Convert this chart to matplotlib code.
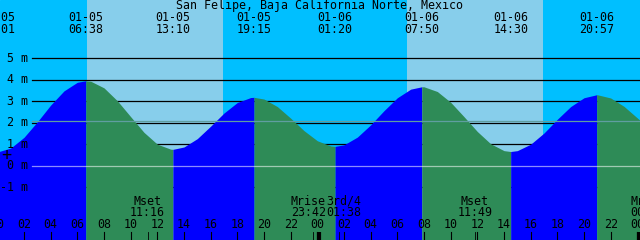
import matplotlib
matplotlib.use('Agg')
import matplotlib.pyplot as plt
from matplotlib.transforms import blended_transform_factory
import numpy as np

# tide extremes (hours from 01-05 00:00)
tide_kind = ['L', 'H', 'L', 'H', 'L', 'H', 'L', 'H', 'L']
tide_hour = [0.017, 6.633, 13.167, 19.25, 25.333, 31.833, 38.5, 44.95, 51.33]
tide_m = [0.64, 3.95, 0.76, 3.18, 0.90, 3.67, 0.66, 3.30, 1.00]
tide_date = ['01-05', '01-05', '01-05', '01-05', '01-06', '01-06', '01-06', '01-06', '01-07']
tide_time = ['00:01', '06:38', '13:10', '19:15', '01:20', '07:50', '14:30', '20:57', '03:20']

# hourly heights
sample_hour = list(range(0, 50))
sample_m = [0.64, 0.82, 1.32, 2.04, 2.82, 3.48, 3.88, 3.93, 3.62, 3.02,
            2.28, 1.55, 1.00, 0.77, 0.87, 1.26, 1.84, 2.45, 2.94, 3.17,
            3.10, 2.75, 2.21, 1.63, 1.16, 0.92, 0.97, 1.33, 1.90, 2.56,
            3.16, 3.56, 3.67, 3.45, 2.95, 2.28, 1.59, 1.02, 0.70, 0.70,
            1.00, 1.52, 2.16, 2.75, 3.16, 3.30, 3.15, 2.76, 2.22, 1.67]

# moon events
moon_name = ['Mset', 'Mrise', '3rd/4', 'Mset', 'Mrise']
moon_hour = [11.267, 23.70, 25.633, 35.817, 48.77]
moon_time = ['11:16', '23:42', '01:38', '11:49', '00:46']

sunrise = [6.72, 30.72]
sunset = [16.92, 40.92]

levels = [-1, 1, 2, 3, 4, 5]
level_labels = [-1, 0, 1, 2, 3, 4, 5]
mean_level = 2.1

W, H = 640, 240
x0, x1 = 0.2, 48.2
ytop, ybot = 7.707, -3.456
pxh = W / (x1 - x0)
FONT = dict(family='DejaVu Sans Mono', fontsize=8.4, color='black')

fig = plt.figure(figsize=(6.4, 2.4), dpi=100)
ax = fig.add_axes([0, 0, 1, 1])
ax.set_xlim(x0, x1)
ax.set_ylim(ybot, ytop)
ax.axis('off')
ax.add_patch(plt.Rectangle((0, 0), 1, 1, transform=ax.transAxes, color='#00BFFF', zorder=0))
for a, b in zip(sunrise, sunset):
    ax.axvspan(a, b, color='#87CEEB', lw=0, zorder=0.5)

bt = blended_transform_factory(ax.transData, ax.transAxes)
def yp(p):
    return 1 - p / H
xl = x0 + 32 / pxh

for lv in levels:
    ax.plot([xl, x1], [lv, lv], color='black', lw=0.9, zorder=1)

# curve: merge samples and extremes
t = np.array(sample_hour + tide_hour, dtype=float)
v = np.array(sample_m + tide_m, dtype=float)
o = np.argsort(t)
t, v = t[o], v[o]
for i in range(len(tide_hour) - 1):
    a, b = tide_hour[i], tide_hour[i + 1]
    col = '#0000FF' if tide_kind[i] == 'L' else '#2E8B57'
    m = (t >= a) & (t <= b)
    ax.fill_between(t[m], ybot, v[m], color=col, lw=0, zorder=2)

ax.plot([xl, x1], [mean_level, mean_level], color='#5F9EA0', lw=0.9, zorder=3)
ax.plot([xl, x1], [0, 0], color='white', alpha=0.55, lw=0.9, zorder=3)

for lv in level_labels:
    ax.text(x0 + 28.5 / pxh, lv, f'{lv} m', ha='right', va='center', zorder=5, **FONT)
ax.text(x0 + 6 / pxh, 0.5, '+', ha='center', va='center', zorder=5,
        family='DejaVu Sans Mono', fontsize=12, color='black')

ax.text(0.5, yp(6), 'San Felipe, Baja California Norte, Mexico', transform=ax.transAxes,
        ha='center', va='center', zorder=5, **FONT)
for h, d, tm in zip(tide_hour, tide_date, tide_time):
    ax.text(h, yp(17.5), d, transform=bt, ha='center', va='center', zorder=5, **FONT)
    ax.text(h, yp(29.5), tm, transform=bt, ha='center', va='center', zorder=5, **FONT)

# hour ticks
for hr in range(0, 50, 2):
    ax.plot([hr, hr], [0, 8 / H], transform=bt, color='black', lw=0.8, zorder=4)
    ax.text(hr, yp(225), f'{hr % 24:02d}', transform=bt, ha='center', va='center', zorder=5, **FONT)
for hr in [24, 48]:
    ax.plot([hr + 0.1, hr + 0.1], [0, 8 / H], transform=bt, color='black', lw=3, zorder=4,
            solid_capstyle='butt')

# moon events, labels nudged apart where they overlap
cx = [(h - x0) * pxh for h in moon_hour]
wd = [len(n) * 7.0 for n in moon_name]
for i in range(len(cx) - 1):
    need = (wd[i] + wd[i + 1]) / 2 + 1
    gap = cx[i + 1] - cx[i]
    if gap < need:
        cx[i] -= (need - gap) / 2
        cx[i + 1] += (need - gap) / 2
for h, c, n, tm in zip(moon_hour, cx, moon_name, moon_time):
    ax.plot([h, h], [0, 8 / H], transform=bt, color='black', lw=0.6, zorder=4)
    xh = x0 + c / pxh
    ax.text(xh, yp(201.5), n, transform=bt, ha='center', va='center', zorder=5, **FONT)
    ax.text(xh, yp(213), tm, transform=bt, ha='center', va='center', zorder=5, **FONT)

fig.savefig('out.png', dpi=100)
